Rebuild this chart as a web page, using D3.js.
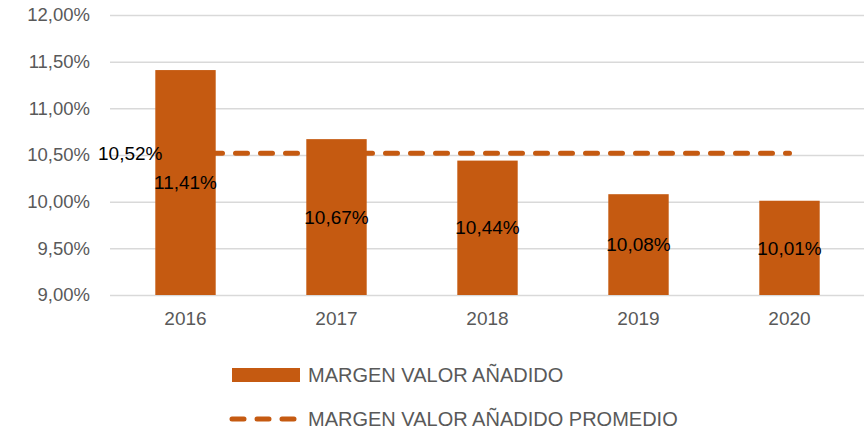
<!DOCTYPE html>
<html>
<head>
<meta charset="utf-8">
<script src="https://cdn.jsdelivr.net/npm/d3@7"></script>
<style>
  body { margin: 0; background: #fff; }
  text { font-family: "Liberation Sans", Arial, sans-serif; }
</style>
</head>
<body>
<svg id="chart" width="864" height="431"></svg>
<script>
const years = ['2016', '2017', '2018', '2019', '2020'];
const margen = [11.41, 10.67, 10.44, 10.08, 10.01];
const promedio = [10.52, 10.52, 10.52, 10.52, 10.52];
const yTicks = [9, 9.5, 10, 10.5, 11, 11.5, 12];
const legendLabels = ['MARGEN VALOR AÑADIDO', 'MARGEN VALOR AÑADIDO PROMEDIO'];

const barColor = '#c55a11';
const fmt = v => v.toFixed(2).replace('.', ',') + '%';

const svg = d3.select('#chart');
const margin = {top: 15, right: 0, bottom: 136, left: 110};
const width = 865 - margin.left;
const height = +svg.attr('height') - margin.top - margin.bottom;
const g = svg.append('g').attr('transform', `translate(${margin.left},${margin.top})`);

const x = d3.scaleBand().domain(years).range([0, width]).paddingInner(0.6).paddingOuter(0.3);
const y = d3.scaleLinear().domain([9, 12]).range([height, 0]);

// grid + y labels
const yAxis = g.append('g').call(d3.axisLeft(y).tickValues(yTicks).tickSize(-width).tickFormat(fmt));
yAxis.select('.domain').remove();
yAxis.selectAll('.tick line').attr('stroke', '#d9d9d9').attr('stroke-width', 1.5);
yAxis.selectAll('.tick text').attr('x', -20).attr('fill', '#595959').style('font-size', '18.5px');

// x labels
const xAxis = g.append('g').attr('transform', `translate(0,${height})`).call(d3.axisBottom(x).tickSize(0));
xAxis.select('.domain').remove();
xAxis.selectAll('.tick text').attr('dy', '1.4em').attr('fill', '#595959').style('font-size', '19px');

// average line (behind bars)
const line = d3.line().x((d, i) => x(years[i]) + x.bandwidth() / 2).y(d => y(d));
g.append('path').datum(promedio)
  .attr('d', line)
  .attr('fill', 'none')
  .attr('stroke', barColor)
  .attr('stroke-width', 5)
  .attr('stroke-linecap', 'round')
  .attr('stroke-dasharray', '12,13');

// bars
g.selectAll('.bar').data(margen).join('rect')
  .attr('class', 'bar')
  .attr('x', (d, i) => x(years[i]))
  .attr('y', d => y(d))
  .attr('width', x.bandwidth())
  .attr('height', d => height - y(d))
  .attr('fill', barColor);

// bar labels
g.selectAll('.lbl').data(margen).join('text')
  .attr('class', 'lbl')
  .attr('x', (d, i) => x(years[i]) + x.bandwidth() / 2)
  .attr('y', d => (y(d) + height) / 2)
  .attr('dy', '0.35em')
  .attr('text-anchor', 'middle')
  .style('font-size', '19px')
  .attr('fill', '#000')
  .text(fmt);

// average label
g.append('text')
  .attr('x', x(years[0]) + x.bandwidth() / 2 - 23)
  .attr('y', y(promedio[0]))
  .attr('dy', '0.35em')
  .attr('text-anchor', 'end')
  .style('font-size', '19px')
  .attr('fill', '#000')
  .text(fmt(promedio[0]));

// legend
const leg = svg.append('g');
leg.append('rect').attr('x', 232).attr('y', 368).attr('width', 68).attr('height', 14).attr('fill', barColor);
leg.append('text').attr('x', 308).attr('y', 375).attr('dy', '0.35em')
  .attr('fill', '#595959').style('font-size', '20px').text(legendLabels[0]);
leg.append('line').attr('x1', 232).attr('x2', 294).attr('y1', 419).attr('y2', 419)
  .attr('stroke', barColor).attr('stroke-width', 5)
  .attr('stroke-linecap', 'round').attr('stroke-dasharray', '12,13');
leg.append('text').attr('x', 308).attr('y', 419).attr('dy', '0.35em')
  .attr('fill', '#595959').style('font-size', '20px').text(legendLabels[1]);
</script>
</body>
</html>
